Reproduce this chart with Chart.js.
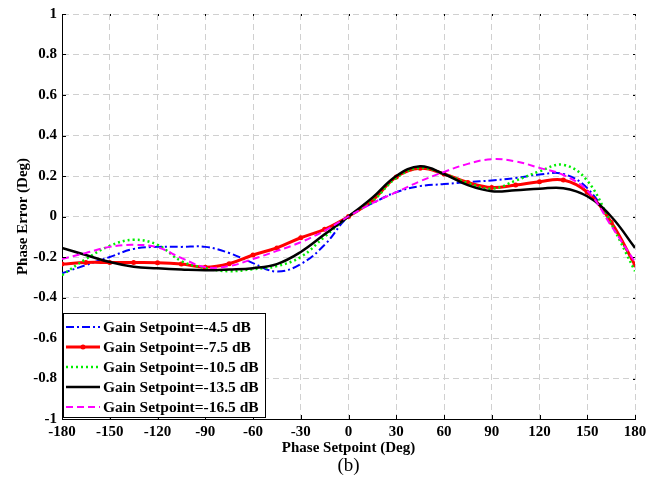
<!DOCTYPE html>
<html>
<head>
<meta charset="utf-8">
<script src="https://cdn.jsdelivr.net/npm/chart.js@4.4.0/dist/chart.umd.min.js"></script>
<style>
  html, body { margin: 0; padding: 0; background: #fff; }
  #wrap { width: 661px; height: 483px; }
</style>
</head>
<body>
<div id="wrap"><canvas id="phase-chart" width="661" height="483"></canvas></div>
<script>
// Phase setpoint (deg)
const phase = [-180, -165, -150, -135, -120, -105, -90, -75, -60, -45, -30, -15, 0,
               15, 30, 45, 60, 75, 90, 105, 120, 135, 150, 165, 180];

// Phase error (deg) per gain setpoint
const gain4_5 = [-0.28, -0.24, -0.20, -0.16, -0.15, -0.15, -0.15, -0.18, -0.23, -0.272, -0.235, -0.14, 0,
                 0.065, 0.12, 0.15, 0.16, 0.17, 0.178, 0.19, 0.207, 0.21, 0.14, -0.03, -0.24];
const gain7_5 = [-0.235, -0.227, -0.227, -0.227, -0.228, -0.235, -0.25, -0.233, -0.19, -0.155, -0.105, -0.063, 0,
                 0.08, 0.195, 0.238, 0.21, 0.168, 0.143, 0.155, 0.172, 0.18, 0.12, -0.028, -0.24];
const gain10_5 = [-0.29, -0.21, -0.145, -0.115, -0.14, -0.22, -0.255, -0.27, -0.26, -0.245, -0.20, -0.10, 0,
                  0.075, 0.19, 0.24, 0.21, 0.165, 0.137, 0.177, 0.223, 0.255, 0.177, -0.035, -0.27];
const gain13_5 = [-0.155, -0.19, -0.225, -0.248, -0.256, -0.262, -0.266, -0.262, -0.255, -0.235, -0.175, -0.088, 0,
                  0.093, 0.2, 0.248, 0.21, 0.155, 0.125, 0.13, 0.137, 0.14, 0.1, 0.0, -0.155];
const gain16_5 = [-0.21, -0.18, -0.15, -0.14, -0.152, -0.205, -0.25, -0.245, -0.21, -0.17, -0.127, -0.07, 0,
                  0.066, 0.12, 0.174, 0.22, 0.26, 0.283, 0.272, 0.24, 0.205, 0.128, -0.045, -0.225];

const labels = ["Gain Setpoint=-4.5 dB", "Gain Setpoint=-7.5 dB", "Gain Setpoint=-10.5 dB",
                "Gain Setpoint=-13.5 dB", "Gain Setpoint=-16.5 dB"];

const FONT = "'Liberation Serif', 'Times New Roman', serif";

const styles = [
    { color: "#0000ff", width: 2, dash: [8, 3, 2, 3], points: 0 },
    { color: "#ff0000", width: 3, dash: [], points: 2.5 },
    { color: "#00ee00", width: 2.5, dash: [2, 3], points: 0 },
    { color: "#000000", width: 2.5, dash: [], points: 0 },
    { color: "#ff00ff", width: 2, dash: [7, 4], points: 0 }
];
const series = [gain4_5, gain7_5, gain10_5, gain13_5, gain16_5];

const datasets = series.map((ys, i) => ({
    label: labels[i],
    data: phase.map((x, j) => ({ x: x, y: ys[j] })),
    borderColor: styles[i].color,
    backgroundColor: styles[i].color,
    borderWidth: styles[i].width,
    borderDash: styles[i].dash,
    pointRadius: styles[i].points,
    pointBorderWidth: 0,
    tension: 0.4,
    fill: false,
    order: 5 - i
}));

// inward tick marks, boxed legend and the "(b)" caption
const extras = {
    id: "extras",
    afterDraw(chart) {
        const ctx = chart.ctx;
        const a = chart.chartArea;
        const xs = chart.scales.x, ys = chart.scales.y;
        ctx.save();
        ctx.strokeStyle = "#000";
        ctx.lineWidth = 1;
        ctx.beginPath();
        xs.ticks.forEach(t => {
            const px = Math.round(xs.getPixelForValue(t.value)) + 0.5;
            ctx.moveTo(px, a.bottom); ctx.lineTo(px, a.bottom - 4);
            ctx.moveTo(px, a.top); ctx.lineTo(px, a.top + 2);
        });
        ys.ticks.forEach(t => {
            const py = Math.round(ys.getPixelForValue(t.value)) + 0.5;
            ctx.moveTo(a.left, py); ctx.lineTo(a.left + 4, py);
            ctx.moveTo(a.right, py); ctx.lineTo(a.right - 2, py);
        });
        ctx.stroke();

        // legend
        const lx = 63.5, ly = 313.5, lw = 202, lh = 104;
        ctx.fillStyle = "#fff";
        ctx.fillRect(lx, ly, lw, lh);
        ctx.strokeStyle = "#000";
        ctx.lineWidth = 1;
        ctx.strokeRect(lx, ly, lw, lh);
        ctx.font = "bold 15.5px " + FONT;
        ctx.textBaseline = "middle";
        ctx.textAlign = "left";
        chart.data.datasets.forEach((ds, i) => {
            const y = 327 + i * 20;
            ctx.beginPath();
            ctx.strokeStyle = ds.borderColor;
            ctx.lineWidth = ds.borderWidth;
            ctx.setLineDash(ds.borderDash);
            ctx.moveTo(66, y); ctx.lineTo(100, y);
            ctx.stroke();
            ctx.setLineDash([]);
            if (ds.pointRadius > 0) {
                ctx.beginPath();
                ctx.fillStyle = ds.borderColor;
                ctx.arc(83, y, ds.pointRadius, 0, Math.PI * 2);
                ctx.fill();
            }
            ctx.fillStyle = "#000";
            ctx.fillText(ds.label, 103, y + 1);
        });

        ctx.font = "19px " + FONT;
        ctx.textAlign = "center";
        ctx.fillText("(b)", (a.left + a.right) / 2, 466);
        ctx.restore();
    }
};

new Chart(document.getElementById("phase-chart"), {
    type: "line",
    data: { datasets: datasets },
    options: {
        responsive: false,
        animation: false,
        layout: { padding: { left: 14, right: 26, top: 13, bottom: 26 } },
        plugins: { legend: { display: false }, tooltip: { enabled: false } },
        scales: {
            x: {
                type: "linear",
                min: -180, max: 180,
                afterFit: s => { s.height = 38; },
                ticks: { stepSize: 30, color: "#000", padding: 4, font: { family: FONT, size: 15, weight: "bold" } },
                grid: { color: "#d0d0d0", drawTicks: false },
                border: { color: "#000", dash: [6, 4] },
                title: { display: true, text: "Phase Setpoint (Deg)", color: "#000", padding: 0,
                         font: { family: FONT, size: 15, weight: "bold" } }
            },
            y: {
                min: -1, max: 1,
                afterFit: s => { s.width = 48; },
                ticks: { stepSize: 0.2, color: "#000", padding: 5, font: { family: FONT, size: 15, weight: "bold" },
                         callback: v => String(+v.toFixed(1)) },
                grid: { color: "#d0d0d0", drawTicks: false },
                border: { color: "#000", dash: [6, 4] },
                title: { display: true, text: "Phase Error (Deg)", color: "#000", padding: 0,
                         font: { family: FONT, size: 15, weight: "bold" } }
            }
        }
    },
    plugins: [extras]
});
</script>
</body>
</html>
